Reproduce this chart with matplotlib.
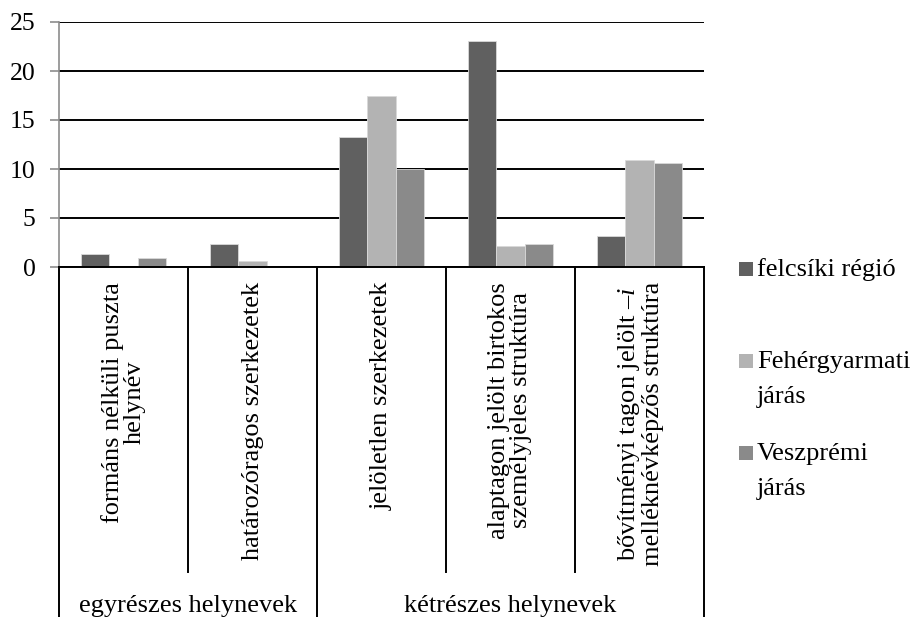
import matplotlib
matplotlib.use("Agg")
import matplotlib.pyplot as plt
import numpy as np
from matplotlib.patches import Rectangle

plt.rcParams["font.family"] = ["Liberation Serif", "DejaVu Serif"]
plt.rcParams["mathtext.fontset"] = "custom"
plt.rcParams["mathtext.rm"] = "Liberation Serif"
plt.rcParams["mathtext.it"] = "Liberation Serif:italic"

# adatok
kategoriak = [
    "formáns nélküli puszta\nhelynév",
    "határozóragos szerkezetek",
    "jelöletlen szerkezetek",
    "alaptagon jelölt birtokos\nszemélyjeles struktúra",
    "bővítményi tagon jelölt –$\\mathit{i}$\nmelléknévképzős struktúra",
]
csoportok = ["egyrészes helynevek", "kétrészes helynevek"]
csoport_meret = [2, 3]
sorozatok = ["felcsíki régió", "Fehérgyarmati járás", "Veszprémi járás"]
sorozat_cimke = ["felcsíki régió", "Fehérgyarmati\njárás", "Veszprémi\njárás"]
felcsiki = [1.3, 2.35, 13.25, 23.05, 3.2]
fehergyarmati = [0, 0.65, 17.45, 2.1, 10.95]
veszpremi = [0.95, 0, 10.0, 2.35, 10.65]
ertekek = [felcsiki, fehergyarmati, veszpremi]
szinek = ["#606060", "#b3b3b3", "#8a8a8a"]

W, H = 914, 617
X0, X1, Y0, Y1 = 59, 704, 267, 22   # rajzterület pixelben
BETU = 19


def ay(py):
    """pixel y -> tengely-arány"""
    return (Y0 - py) / (Y0 - Y1)


fig = plt.figure(figsize=(W / 100, H / 100), dpi=100, facecolor="white")
ax = fig.add_axes([X0 / W, 1 - Y0 / H, (X1 - X0) / W, (Y0 - Y1) / H])

x = np.arange(len(kategoriak))
bw = 0.22
for i, (v, c) in enumerate(zip(ertekek, szinek)):
    ax.bar(x + (i - 1) * bw, v, bw, color=c, edgecolor="#d9d9d9",
           linewidth=0.6, zorder=3)

ax.set_xlim(-0.5, len(kategoriak) - 0.5)
ax.set_ylim(0, 25)
ax.set_yticks([0, 5, 10, 15, 20, 25])
ax.yaxis.grid(True, color="black", linewidth=1.4)
ax.set_axisbelow(True)
for o in ("top", "right", "bottom"):
    ax.spines[o].set_visible(False)
ax.spines["left"].set_color("#8c8c8c")
ax.spines["left"].set_linewidth(1.2)
ax.tick_params(axis="y", direction="out", length=6.5, width=1.2,
               color="#8c8c8c", labelsize=18.5, pad=10.5)
ax.set_xticks([])

tr = ax.get_xaxis_transform()
# kategória-táblázat vonalai
ax.plot([-0.5, 4.5], [0, 0], color="black", lw=1.4, transform=tr,
        clip_on=False, zorder=4)
hatarok = np.cumsum([0] + csoport_meret) - 0.5
for xs in np.arange(-0.5, len(kategoriak)):
    alj = ay(617) if xs in hatarok else ay(572)
    ax.plot([xs, xs], [0, alj], color="black", lw=1.4, transform=tr,
            clip_on=False)

for xi, k in zip(x, kategoriak):
    ax.text(xi, ay(282), k, rotation=90, ha="center", va="top",
            multialignment="center", fontsize=BETU, transform=tr,
            linespacing=1.0)

for j, g in enumerate(csoportok):
    kozep = (hatarok[j] + hatarok[j + 1]) / 2
    ax.text(kozep, ay(612), g, ha="center", va="baseline", fontsize=BETU,
            transform=tr)

# jelmagyarázat: a négyzet alja = az első sor alapvonala
for i, (lab, c) in enumerate(zip(sorozat_cimke, szinek)):
    top = 262 + i * 92
    fig.patches.append(Rectangle((739 / W, 1 - (top + 14) / H), 14 / W,
                                 14 / H, transform=fig.transFigure,
                                 facecolor=c, edgecolor="none"))
    for k, sor in enumerate(lab.split("\n")):
        fig.text(757 / W, 1 - (top + 14 + 35 * k) / H, sor, ha="left",
                 va="baseline", fontsize=BETU)

fig.savefig("out.png", dpi=100, facecolor="white")
